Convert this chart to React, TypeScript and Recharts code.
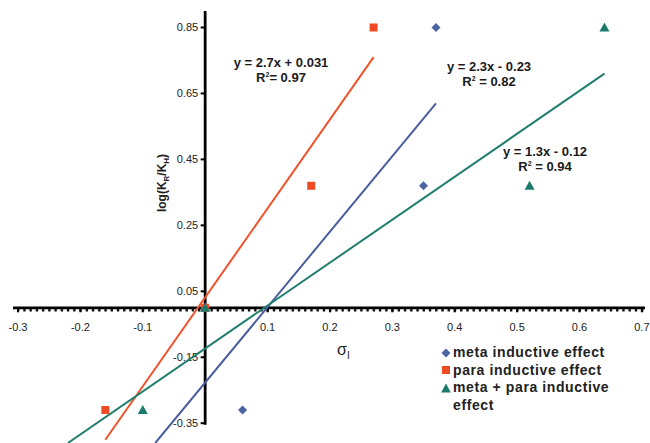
import React from 'react';
import { ComposedChart, Scatter, XAxis, YAxis, ReferenceLine, ReferenceDot, Legend } from 'recharts';

// ---- data ----
const metaPoints = [
  { x: 0, y: 0 },
  { x: 0.06, y: -0.31 },
  { x: 0.35, y: 0.37 },
  { x: 0.37, y: 0.85 },
];
const paraPoints = [
  { x: -0.16, y: -0.31 },
  { x: 0, y: 0 },
  { x: 0.17, y: 0.37 },
  { x: 0.27, y: 0.85 },
];
const bothPoints = [
  { x: -0.1, y: -0.31 },
  { x: 0, y: 0 },
  { x: 0.52, y: 0.37 },
  { x: 0.64, y: 0.85 },
];
// trend-line end points as drawn
const metaTrend = [
  { x: -0.08, y: -0.41 },
  { x: 0.37, y: 0.62 },
];
const paraTrend = [
  { x: -0.16, y: -0.4 },
  { x: 0.27, y: 0.76 },
];
const bothTrend = [
  { x: -0.22, y: -0.41 },
  { x: 0.64, y: 0.71 },
];

const xTicks = [-0.3, -0.2, -0.1, 0.1, 0.2, 0.3, 0.4, 0.5, 0.6, 0.7];
const xTickLabels = ['-0.3', '-0.2', '-0.1', '0.1', '0.2', '0.3', '0.4', '0.5', '0.6', '0.7'];
const yTicks = [0.85, 0.65, 0.45, 0.25, 0.05, -0.15, -0.35];
const yTickLabels = ['0.85', '0.65', '0.45', '0.25', '0.05', '-0.15', '-0.35'];

const seriesNames = ['meta inductive effect', 'para inductive effect', 'meta + para inductive', 'effect'];
const equations = [
  { eq: 'y = 2.7x + 0.031', r2: '= 0.97' },
  { eq: 'y = 2.3x - 0.23', r2: ' = 0.82' },
  { eq: 'y = 1.3x - 0.12', r2: ' = 0.94' },
];

const BLUE = '#4a64a3';
const BLUE_LINE = '#4b5c9e';
const RED = '#ee4a26';
const RED_LINE = '#f0532a';
const GREEN = '#1c7b6b';
const GREEN_LINE = '#217d6e';
const FONT = '"Liberation Sans", Arial, Helvetica, sans-serif';

const Square = (p: any) => <rect x={p.cx - 4} y={p.cy - 4} width={8} height={8} fill={RED} />;
const Diamond = (p: any) => (
  <polygon points={`${p.cx},${p.cy - 4.5} ${p.cx + 4.5},${p.cy} ${p.cx},${p.cy + 4.5} ${p.cx - 4.5},${p.cy}`} fill={BLUE} />
);
const Triangle = (p: any) => (
  <polygon points={`${p.cx},${p.cy - 5} ${p.cx + 5},${p.cy + 4} ${p.cx - 5},${p.cy + 4}`} fill={GREEN} />
);
const NoShape = () => <g />;

const LegendContent = () => {
  const row: React.CSSProperties = { display: 'flex', alignItems: 'center', height: 17.5, whiteSpace: 'nowrap' };
  const txt: React.CSSProperties = { marginLeft: 2 };
  return (
    <div style={{ fontFamily: FONT, fontWeight: 'bold', fontSize: 14, letterSpacing: 0.6, color: '#222', lineHeight: '17.5px' }}>
      <div style={row}>
        <svg width={10} height={10}><polygon points="5,0.5 9.5,5 5,9.5 0.5,5" fill={BLUE} /></svg>
        <span style={txt}>{seriesNames[0]}</span>
      </div>
      <div style={row}>
        <svg width={10} height={10}><rect x={1} y={1} width={8} height={8} fill={RED} /></svg>
        <span style={txt}>{seriesNames[1]}</span>
      </div>
      <div style={row}>
        <svg width={10} height={10}><polygon points="5,0.5 9.8,9.5 0.2,9.5" fill={GREEN} /></svg>
        <span style={txt}>{seriesNames[2]}</span>
      </div>
      <div style={row}>
        <span style={{ marginLeft: 12 }}>{seriesNames[3]}</span>
      </div>
    </div>
  );
};

const eqStyle = (cx: number, top: number): React.CSSProperties => ({
  position: 'absolute',
  left: cx - 80,
  top,
  width: 160,
  textAlign: 'center',
  fontFamily: FONT,
  fontWeight: 'bold',
  fontSize: 13,
  lineHeight: '12px',
  color: '#1a1a1a',
  whiteSpace: 'nowrap',
});

const Eq = ({ cx, top, i }: { cx: number; top: number; i: number }) => (
  <div style={eqStyle(cx, top)}>
    <div>{equations[i].eq}</div>
    <div>
      R<span style={{ fontSize: 7, verticalAlign: 5 }}>2</span>
      {equations[i].r2}
    </div>
  </div>
);

export default function App() {
  return (
    <div style={{ position: 'relative', width: 650, height: 443, background: '#fff' }}>
      <style>{'body{margin:0;}'}</style>
      <ComposedChart width={650} height={443} margin={{ top: 11, right: 5, bottom: 0, left: 13 }}>
        <XAxis type="number" dataKey="x" domain={[-0.308, 0.705]} allowDataOverflow hide />
        <YAxis type="number" dataKey="y" domain={[-0.41, 0.9]} allowDataOverflow hide />
        <ReferenceLine y={0} stroke="#000" strokeWidth={2.8} />
        <ReferenceLine
          y={0}
          shape={(p: any) => (
            <line
              x1={p.x1}
              x2={p.x2}
              y1={p.y1 + 2.5}
              y2={p.y2 + 2.5}
              stroke="#111"
              strokeWidth={2.6}
              strokeDasharray="2.4 3.84"
              strokeDashoffset={-4}
            />
          )}
        />
        <ReferenceLine segment={[{ x: 0, y: -0.355 }, { x: 0, y: 0.9 }]} stroke="#000" strokeWidth={2.8} />
        {xTicks.map((t, i) => (
          <ReferenceDot
            key={'xt' + i}
            x={t}
            y={0}
            shape={(p: any) => (
              <g>
                <line x1={p.cx} x2={p.cx} y1={p.cy} y2={p.cy + 4.5} stroke="#000" strokeWidth={2} />
                <text x={p.cx} y={p.cy + 23} textAnchor="middle" fontFamily={FONT} fontSize={11} fill="#222">
                  {xTickLabels[i]}
                </text>
              </g>
            )}
          />
        ))}
        {yTicks.map((t, i) => (
          <ReferenceDot
            key={'yt' + i}
            x={0}
            y={t}
            shape={(p: any) => (
              <g>
                <line x1={p.cx - 4.5} x2={p.cx} y1={p.cy} y2={p.cy} stroke="#000" strokeWidth={2} />
                <text x={p.cx - 7} y={p.cy + 4} textAnchor="end" fontFamily={FONT} fontSize={11} fill="#222">
                  {yTickLabels[i]}
                </text>
              </g>
            )}
          />
        ))}
        <Scatter data={metaTrend} line={{ stroke: BLUE_LINE, strokeWidth: 2 }} shape={NoShape} isAnimationActive={false} legendType="none" />
        <Scatter data={paraTrend} line={{ stroke: RED_LINE, strokeWidth: 2 }} shape={NoShape} isAnimationActive={false} legendType="none" />
        <Scatter data={bothTrend} line={{ stroke: GREEN_LINE, strokeWidth: 2 }} shape={NoShape} isAnimationActive={false} legendType="none" />
        <Scatter data={metaPoints} shape={Diamond} isAnimationActive={false} name={seriesNames[0]} />
        <Scatter data={paraPoints} shape={Square} isAnimationActive={false} name={seriesNames[1]} />
        <Scatter data={bothPoints} shape={Triangle} isAnimationActive={false} name={seriesNames[2]} />
        <Legend
          layout="vertical"
          align="center"
          verticalAlign="middle"
          content={<LegendContent />}
          wrapperStyle={{ left: 441, top: 344, width: 210, height: 72 }}
        />
      </ComposedChart>

      <Eq cx={281} top={57} i={0} />
      <Eq cx={489} top={61} i={1} />
      <Eq cx={545} top={146} i={2} />

      <div
        style={{
          position: 'absolute',
          left: 337,
          top: 341,
          fontFamily: FONT,
          fontSize: 16,
          color: '#222',
          lineHeight: '18px',
        }}
      >
        σ<span style={{ fontSize: 10, verticalAlign: -4 }}>I</span>
      </div>

      <div
        style={{
          position: 'absolute',
          left: 162 - 60,
          top: 183 - 8,
          width: 120,
          height: 16,
          lineHeight: '16px',
          textAlign: 'center',
          transform: 'rotate(-90deg)',
          fontFamily: FONT,
          fontWeight: 'bold',
          fontSize: 12,
          color: '#222',
          whiteSpace: 'nowrap',
        }}
      >
        log(K<span style={{ fontSize: 8, verticalAlign: -3 }}>R</span>/K<span style={{ fontSize: 8, verticalAlign: -3 }}>H</span>)
      </div>
    </div>
  );
}
